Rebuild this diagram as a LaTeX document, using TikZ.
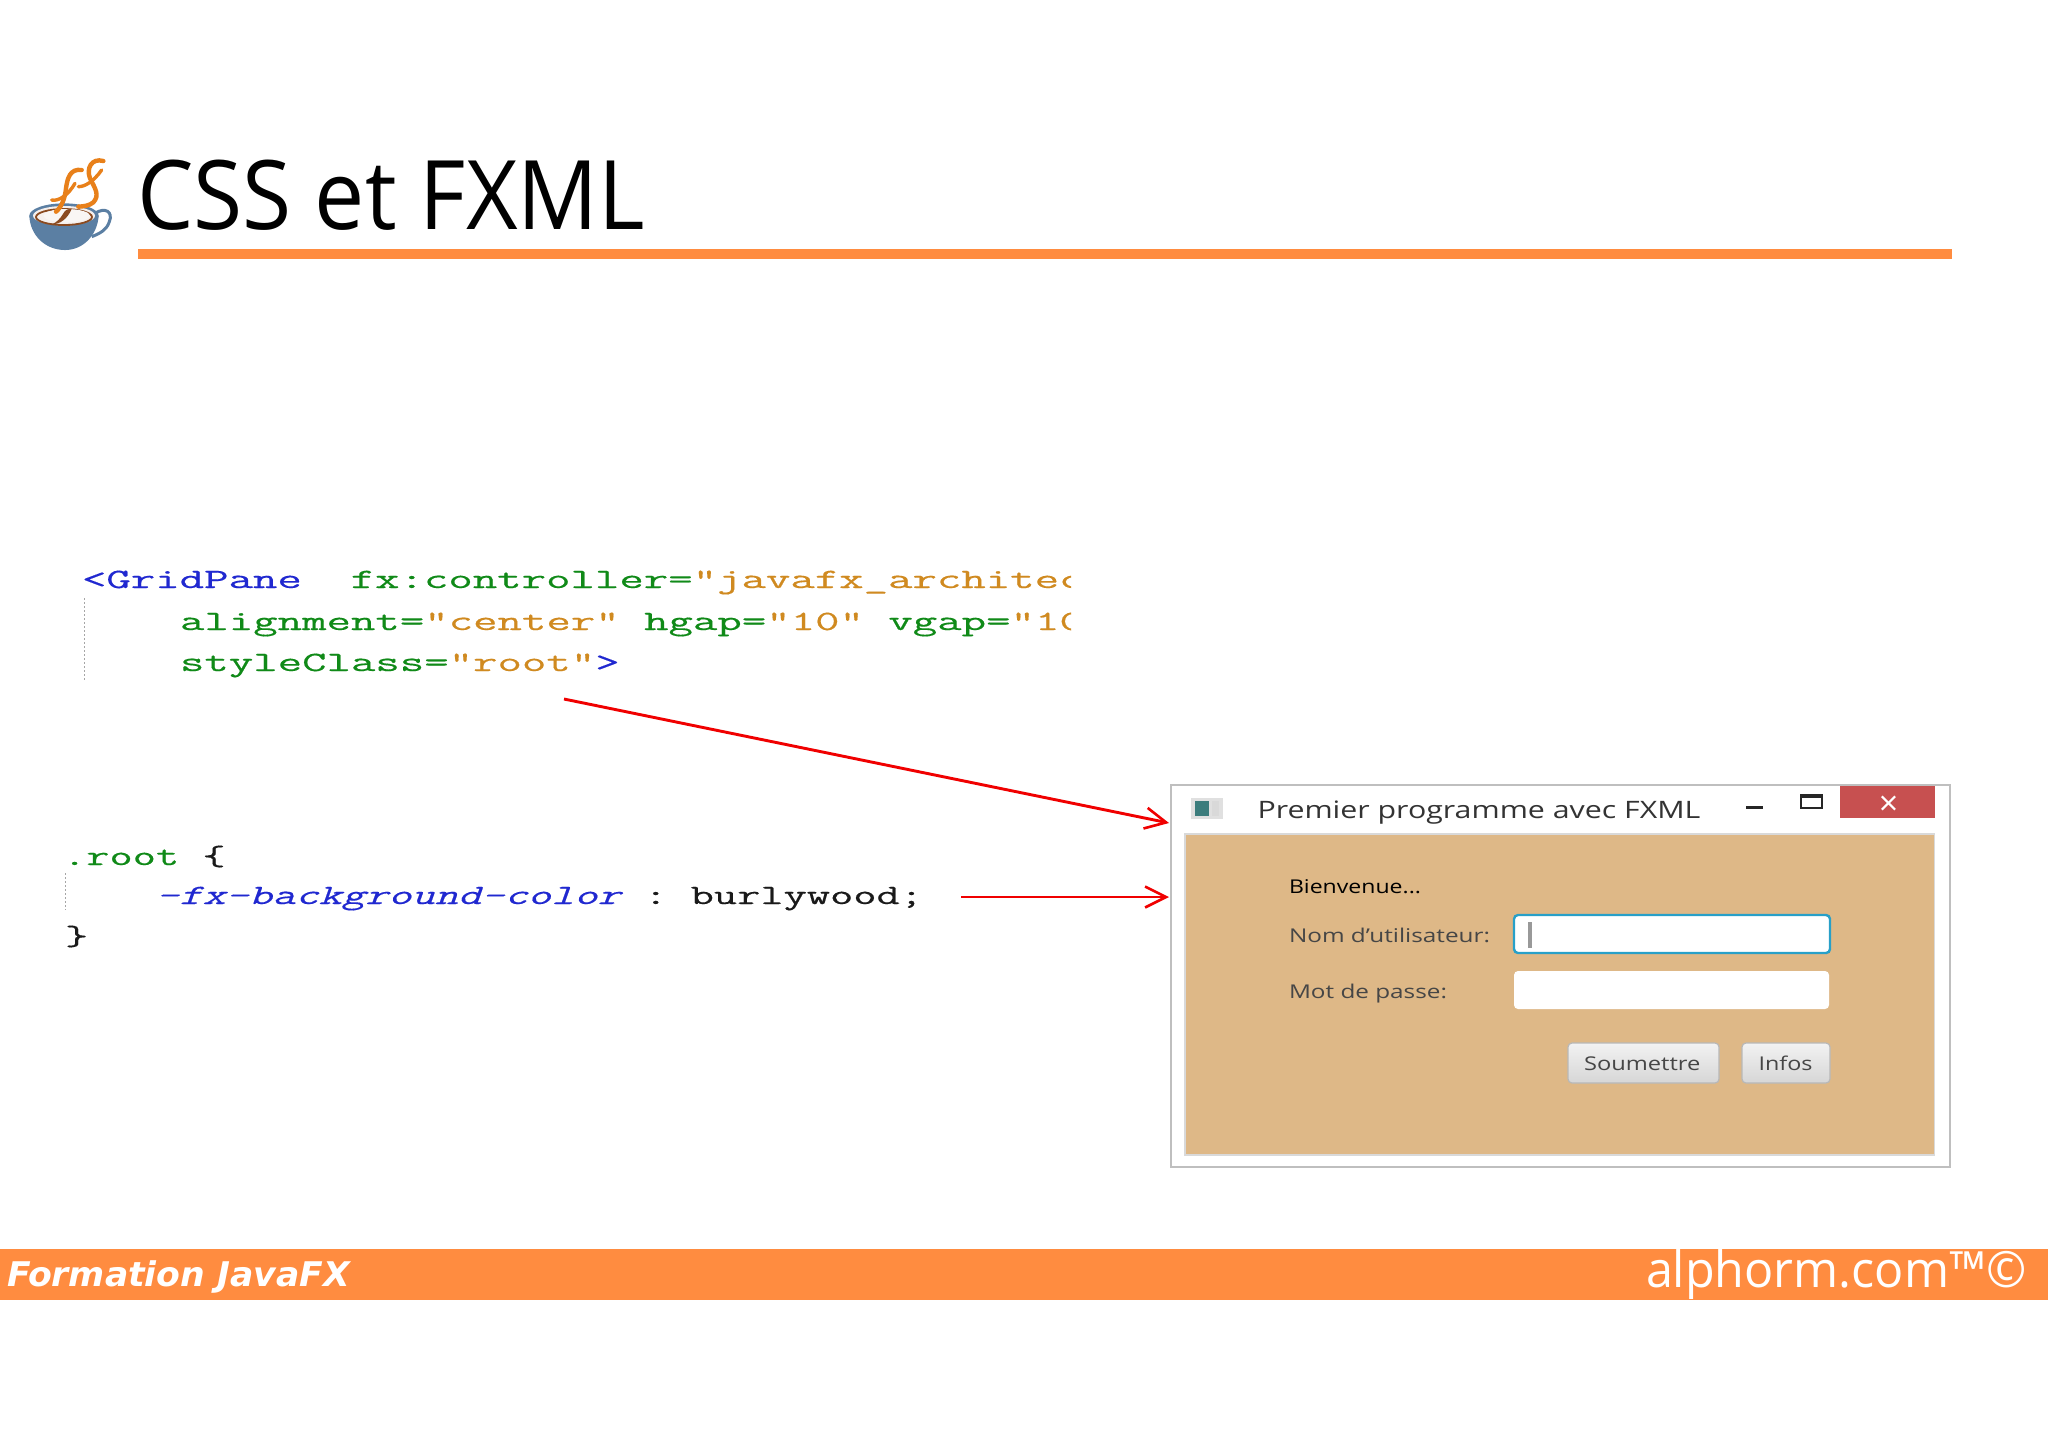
\documentclass[tikz,border=0pt]{standalone}
\usepackage{fontspec}
\usepackage{graphicx}
\setmainfont{Open Sans}
\newfontfamily\footfont{DejaVu Sans}
\newfontfamily\codefont[FakeBold=0.35]{Latin Modern Mono}
\newfontfamily\codeslant[FakeBold=0.35,FakeSlant=0.22]{Latin Modern Mono}
\usetikzlibrary{arrows.meta}
\definecolor{orbar}{HTML}{FF8C40}
\definecolor{cblue}{HTML}{2028D0}
\definecolor{cgreen}{HTML}{108A18}
\definecolor{cvalue}{HTML}{D08A20}
\definecolor{cdark}{HTML}{1A1A1A}
\definecolor{burly}{HTML}{DEB887}
\definecolor{cupblue}{HTML}{5B7FA3}
\definecolor{flame}{HTML}{E8801A}
\definecolor{coffee}{HTML}{8A4A20}
\definecolor{arrowred}{HTML}{F00000}
\definecolor{lblgray}{HTML}{464646}
\definecolor{closered}{HTML}{C75050}
\definecolor{focusblue}{HTML}{28A0C8}
\definecolor{icongreen}{HTML}{3C7D7D}
\newcommand{\fitw}[2]{\resizebox{#1pt}{\height}{#2}}
\newcommand{\xmlcode}[1]{\scalebox{1.694}[1]{\codefont\fontsize{14}{16}\selectfont #1}}
\newcommand{\csscode}[1]{\scalebox{1.612}[1]{\codefont\fontsize{14}{16}\selectfont #1}}
\tikzset{
  x=0.5pt,y=-0.5pt,
  txt/.style={inner sep=0pt,outer sep=0pt,anchor=base west},
  redarrow/.style={draw=arrowred,line width=1.45pt,-{Straight Barb[length=10.5pt,width=10.5pt,line width=1.3pt]}},
  dotline/.style={draw=gray!70,line width=0.5pt,dash pattern=on 1pt off 1pt},
  fieldbox/.style={fill=white,rounded corners=2pt},
  btn/.style={top color=white!95!black,bottom color=white!84!black,draw=white!72!black,line width=0.6pt,rounded corners=2pt},
  lbl/.style={txt,text=lblgray,font=\fontsize{9.5}{11}\selectfont},
  steam/.style={draw=flame,line cap=round,line join=round},
}
\begin{document}
\begin{tikzpicture}
\useasboundingbox (0,0) rectangle (2048,1447);
\fill[white] (0,0) rectangle (2048,1447);

% logo
\begin{scope}[shift={(10,145)},x=0.1667pt,y=-0.1667pt]
  \draw[cupblue,line width=1.5pt] (255,205) .. controls (285,185) and (310,200) .. (298,230) .. controls (290,255) and (270,265) .. (245,275);
  \fill[cupblue] (58,212) .. controls (60,270) and (105,315) .. (165,315) .. controls (220,315) and (262,270) .. (266,212) -- cycle;
  \fill[cupblue] (162,212) ellipse [x radius=104,y radius=37];
  \fill[white!92!coffee] (162,212) ellipse [x radius=93,y radius=29];
  \draw[coffee,line width=0.9pt] (162,216) ellipse [x radius=84,y radius=24];
  \fill[white!95!coffee] (170,212) ellipse [x radius=70,y radius=20];
  \fill[coffee] (185,192) .. controls (175,190) and (165,195) .. (160,205) .. controls (150,222) and (140,232) .. (125,238) .. controls (150,238) and (172,222) .. cycle;
  \draw[steam,line width=2.2pt] (215,75) .. controls (180,70) and (172,100) .. (168,130) .. controls (165,160) and (155,185) .. (138,200);
  \draw[steam,line width=1.7pt] (125,165) .. controls (145,170) and (175,150) .. (195,115);
  \draw[steam,line width=2.2pt] (280,48) .. controls (245,38) and (228,70) .. (240,100) .. controls (255,130) and (270,150) .. (250,172) .. controls (238,182) and (222,184) .. (205,185);
  \draw[steam,line width=1.7pt] (205,125) .. controls (225,125) and (250,110) .. (275,75);
\end{scope}

% title
\node[txt,font=\fontsize{48}{56}\selectfont] (title) at (137,229) {\fitw{254}{CSS et FXML}};
\fill[orbar] (138,249) rectangle (1952,259);

% xml code
\begin{scope}
  \clip (0,550) rectangle (1071,700);
  \node[txt] (xml1) at (82,588) {\xmlcode{\textcolor{cblue}{<GridPane}\ \ \textcolor{cgreen}{fx:controller=}\textcolor{cvalue}{"javafx\_architect}}};
  \node[txt] (xml2) at (180,630) {\xmlcode{\textcolor{cgreen}{alignment=}\textcolor{cvalue}{"center"}\ \textcolor{cgreen}{hgap=}\textcolor{cvalue}{"10"}\ \textcolor{cgreen}{vgap=}\textcolor{cvalue}{"10"}}};
  \node[txt] (xml3) at (180,671) {\xmlcode{\textcolor{cgreen}{styleClass=}\textcolor{cvalue}{"root"}\textcolor{cblue}{>}}};
\end{scope}
\draw[dotline] (84,598) -- (84,680);

% css code
\node[txt] (css1) at (63,865) {\csscode{\textcolor{cgreen}{.root}\ \textcolor{cdark}{\{}}};
\node[txt] (css2) at (156,904) {\csscode{\textcolor{cblue}{\codeslant\fontsize{14}{16}\selectfont -fx-background-color}\ \textcolor{cdark}{:\ burlywood;}}};
\node[txt] (css3) at (65,945) {\csscode{\textcolor{cdark}{\}}}};
\draw[dotline] (65,873) -- (65,910);

% window
\node[draw=white!75!black,line width=1pt,fill=white,inner sep=0pt,outer sep=0pt,anchor=north west,minimum width=389.5pt,minimum height=191pt] (win) at (1171,785) {};
\fill[burly] (1185,834) rectangle (1934.5,1155);
\draw[white!85!black,line width=0.7pt] (1185,834) rectangle (1934.5,1155);
\fill[closered] (1840,786) rectangle (1935,818);
\node[inner sep=0pt,text=white,font=\fontsize{17}{18}\selectfont] (closex) at (1888.5,806) {×};
\fill[black!85] (1745.5,806) rectangle (1763,809);
\draw[black!85,line width=0.7pt] (1801,795) rectangle (1822,808);
\fill[black!85] (1801,795) rectangle (1822,798);
% window icon
\fill[white!88!black] (1191,798) rectangle (1223,819);
\fill[icongreen] (1195,801) rectangle (1209,816);
\fill[white!70!gray] (1212,801) rectangle (1219,816);
\node[txt,text=black!80,font=\fontsize{12}{14}\selectfont] (wintitle) at (1257.5,818) {\fitw{221.5}{Premier programme avec FXML}};

\node[txt,text=black,font=\fontsize{9.5}{11}\selectfont] (welcome) at (1289,893) {\fitw{66}{Bienvenue...}};
\node[lbl] (userlbl) at (1289,942) {\fitw{100.5}{Nom d'utilisateur:}};
\node[lbl] (passlbl) at (1289,998) {\fitw{79}{Mot de passe:}};

\draw[fieldbox,draw=focusblue,line width=1.2pt] (1514,915) rectangle (1830,953);
\fill[gray!80] (1528,922) rectangle (1532,948);
\fill[fieldbox] (1514,971) rectangle (1829,1009);

\draw[btn] (1568,1043) rectangle (1719,1083);
\draw[btn] (1742,1043) rectangle (1830,1083);
\node[lbl] (submit) at (1584,1070) {\fitw{58.2}{Soumettre}};
\node[lbl] (infos) at (1758.5,1070) {\fitw{27}{Infos}};

% arrows
\coordinate (a1s) at (564,699);
\coordinate (a1t) at (1169,823);
\coordinate (a2s) at (961,897);
\coordinate (a2t) at (1169,897);
\draw[redarrow] (a1s) -- (a1t);
\draw[redarrow] (a2s) -- (a2t);

% footer
\fill[orbar] (0,1249) rectangle (2048,1300);
\node[txt,text=white,font=\footfont\bfseries\itshape\fontsize{17}{20}\selectfont] (footl) at (7,1286) {\fitw{171.5}{Formation JavaFX}};
\node[txt,text=white,font=\fontsize{25}{30}\selectfont] (footr) at (1646,1287) {\fitw{190.5}{alphorm.com™©}};
\end{tikzpicture}
\end{document}
